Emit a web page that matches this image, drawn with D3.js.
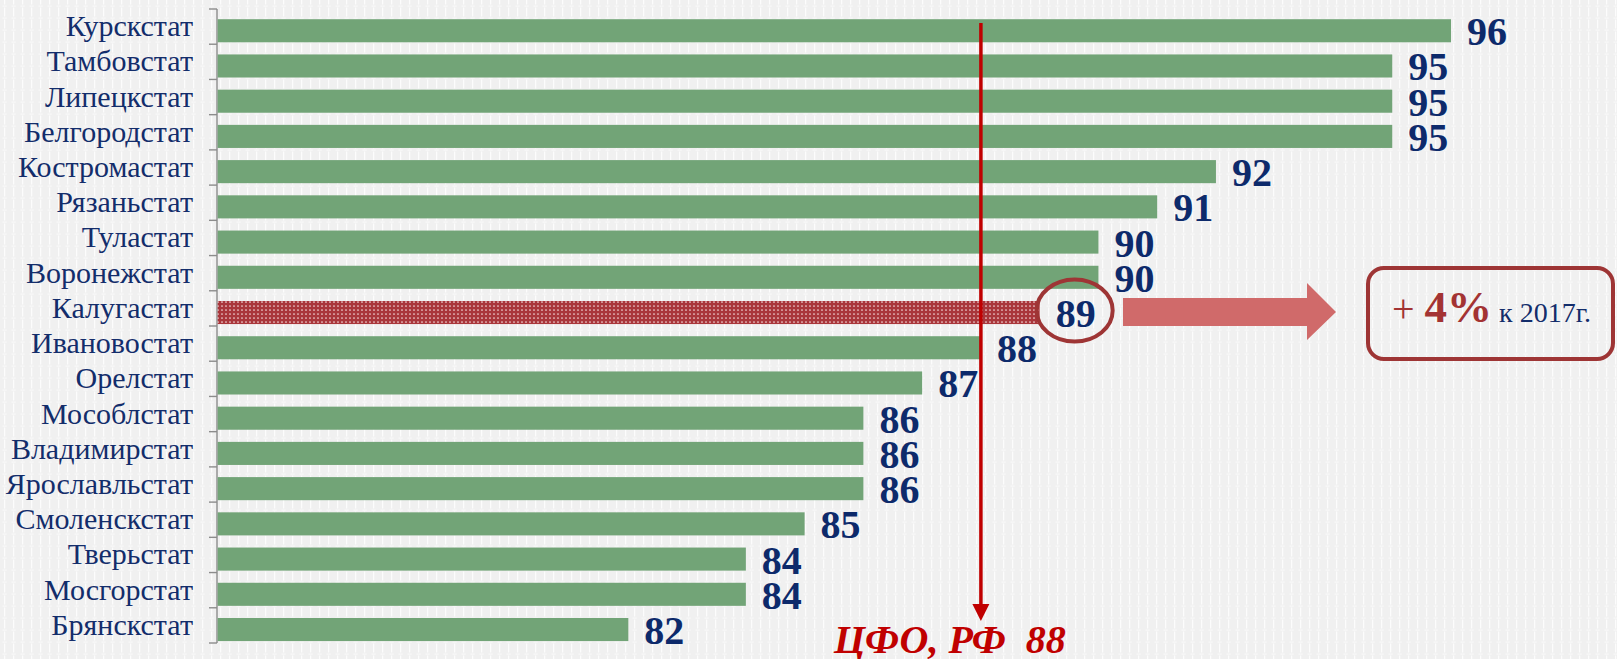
<!DOCTYPE html>
<html><head><meta charset="utf-8">
<script src="https://cdn.jsdelivr.net/npm/d3@7"></script>
<style>
html,body{margin:0;padding:0;background:#f1f1f1;}
svg{display:block;}
text{font-family:"Liberation Serif","Times New Roman",serif;}
</style></head>
<body>
<svg id="chart" width="1617" height="659"></svg>
<script>
const categories = ["Курскстат","Тамбовстат","Липецкстат","Белгородстат","Костромастат","Рязаньстат","Туластат","Воронежстат","Калугастат","Ивановостат","Орелстат","Мособлстат","Владимирстат","Ярославльстат","Смоленскстат","Тверьстат","Мосгорстат","Брянскстат"];
const values = [96,95,95,95,92,91,90,90,89,88,87,86,86,86,85,84,84,82];
const highlighted = "Калугастат";
const benchmarkValue = 88;
const benchmarkLabel = "ЦФО, РФ  88";
const changeSign = "+ ";
const changeValue = "4%";
const changeRest = " к 2017г.";

const svg = d3.select("#chart");
const W = 1617, H = 659;
const defs = svg.append("defs");

// background texture
const bg = defs.append("pattern").attr("id","bgpat").attr("patternUnits","userSpaceOnUse")
  .attr("width",9).attr("height",12);
bg.append("rect").attr("width",9).attr("height",12).attr("fill","#f0f0f0");
bg.append("rect").attr("x",4).attr("y",0).attr("width",1.3).attr("height",4.5).attr("fill","#fcfcfc");
bg.append("rect").attr("x",4).attr("y",7.5).attr("width",1.3).attr("height",4.5).attr("fill","#fcfcfc");
bg.append("rect").attr("x",2.5).attr("y",5.6).attr("width",4.3).attr("height",1).attr("fill","#fafafa");

// dotted red pattern for highlighted bar
const hp = defs.append("pattern").attr("id","hlpat").attr("patternUnits","userSpaceOnUse")
  .attr("width",4).attr("height",4);
hp.append("rect").attr("width",4).attr("height",4).attr("fill","#a9363b");
hp.append("circle").attr("cx",2).attr("cy",2).attr("r",0.85).attr("fill","#f3d9d9");

svg.append("rect").attr("width",W).attr("height",H).attr("fill","url(#bgpat)");

const x = d3.scaleLinear().domain([75, 96]).range([217, 1451]);
const y = d3.scaleBand().domain(categories).range([9, 643]).padding(0);
const bw = y.bandwidth();
const barOff = bw*0.29, barH = bw*0.655;

// axis
const axisG = svg.append("g").attr("transform",`translate(${x(75)},0)`);
axisG.append("line").attr("y1",y.range()[0]).attr("y2",y.range()[1])
  .attr("stroke","#8c8c8c").attr("stroke-width",1.4);
const tickPos = categories.map(c=>y(c)).concat([y.range()[1]]);
axisG.selectAll("line.tk").data(tickPos).join("line").attr("class","tk")
  .attr("x1",-8).attr("x2",0).attr("y1",d=>d).attr("y2",d=>d)
  .attr("stroke","#8c8c8c").attr("stroke-width",1.4);

// category labels
svg.append("g").selectAll("text").data(categories).join("text")
  .attr("x",193).attr("y",d=>y(d)+bw/2+9.5)
  .attr("text-anchor","end").attr("font-size",30).attr("fill","#132d6b")
  .text(d=>d);

// bars
const data = categories.map((c,i)=>({c, v: values[i]}));
svg.append("g").selectAll("rect").data(data).join("rect")
  .attr("x",x(75)+0.7).attr("y",d=>y(d.c)+barOff)
  .attr("width",d=>x(d.v)-x(75)-0.7).attr("height",barH)
  .attr("fill",d=>d.c===highlighted?"url(#hlpat)":"#72a477");

// benchmark line with arrow
const bx = x(benchmarkValue);
svg.append("line").attr("x1",bx).attr("x2",bx).attr("y1",23).attr("y2",606)
  .attr("stroke","#c00000").attr("stroke-width",3.5);
svg.append("path").attr("d",`M${bx-8.5},604 L${bx+8.5},604 L${bx},621 Z`).attr("fill","#c00000");

// value labels
svg.append("g").selectAll("text").data(data).join("text")
  .attr("x",d=>x(d.v)+16).attr("y",d=>y(d.c)+barOff+barH/2+14.5)
  .attr("font-size",40).attr("font-weight","bold").attr("fill","#0d2a6b")
  .text(d=>d.v);

// circle around highlighted value
const hv = values[categories.indexOf(highlighted)];
const hy = y(highlighted)+barOff+barH/2;
svg.append("ellipse").attr("cx",x(hv)+35).attr("cy",hy-2).attr("rx",38).attr("ry",31)
  .attr("fill","none").attr("stroke","#9e3535").attr("stroke-width",4);

// block arrow
svg.append("path").attr("d","M1123,298 L1307,298 L1307,283 L1336,312 L1307,340 L1307,326 L1123,326 Z")
  .attr("fill","#d06a6a");

// annotation box
svg.append("rect").attr("x",1368).attr("y",268).attr("width",245).attr("height",91)
  .attr("rx",16).attr("ry",16).attr("fill","none").attr("stroke","#9e3535").attr("stroke-width",4);
const at = svg.append("text").attr("x",1392).attr("y",322);
at.append("tspan").attr("font-size",40).attr("fill","#a33333").attr("xml:space","preserve").text(changeSign);
at.append("tspan").attr("font-size",45).attr("font-weight","bold").attr("fill","#a33333").text(changeValue);
at.append("tspan").attr("font-size",28).attr("fill","#132d6b").attr("xml:space","preserve").text(changeRest);

// benchmark label
svg.append("text").attr("x",834).attr("y",653).attr("font-size",40)
  .attr("font-weight","bold").attr("font-style","italic").attr("fill","#c00000")
  .style("white-space","pre").text(benchmarkLabel);
</script>
</body></html>
